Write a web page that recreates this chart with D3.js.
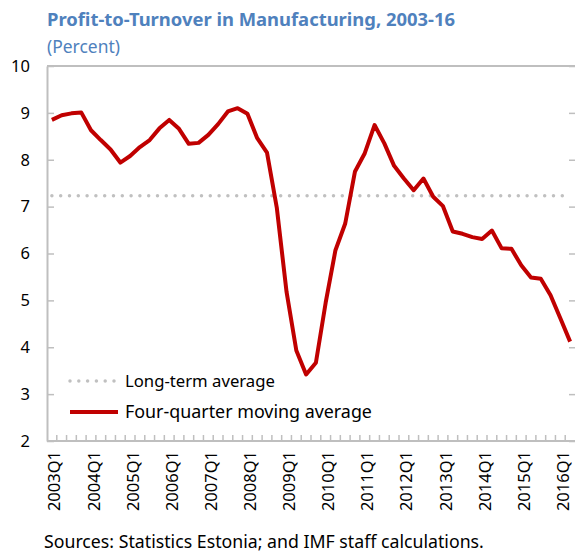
<!DOCTYPE html>
<html>
<head>
<meta charset="utf-8">
<script src="https://cdn.jsdelivr.net/npm/d3@7"></script>
<style>
  body { margin: 0; background: #fff; }
  svg { display: block; font-family: "Noto Sans", "Open Sans", sans-serif; }
</style>
</head>
<body>
<svg id="drawing_region"></svg>
<script>
// quarters 2003Q1 .. 2016Q2
const years = [2003, 2004, 2005, 2006, 2007, 2008, 2009, 2010, 2011, 2012, 2013, 2014, 2015, 2016];
const quarters = [];
years.forEach(y => [1, 2, 3, 4].forEach(q => quarters.push(y + "Q" + q)));
quarters.splice(54);

// four-quarter moving average of profit-to-turnover, percent
const movingAvg = [
    8.85, 8.95, 8.99, 9.01, 8.63, 8.42, 8.22, 7.94, 8.08, 8.27,
    8.42, 8.67, 8.85, 8.66, 8.34, 8.36, 8.53, 8.76, 9.03, 9.10,
    8.98, 8.46, 8.15, 6.98, 5.18, 3.93, 3.42, 3.67, 4.95, 6.07,
    6.64, 7.75, 8.14, 8.74, 8.35, 7.87, 7.60, 7.35, 7.60, 7.21,
    7.01, 6.47, 6.42, 6.35, 6.31, 6.49, 6.11, 6.10, 5.75, 5.49,
    5.46, 5.11, 4.62, 4.12
];
const longTermAvg = 7.23;

const yTicks = [2, 3, 4, 5, 6, 7, 8, 9, 10];
const xTickLabels = ["2003Q1", "2004Q1", "2005Q1", "2006Q1", "2007Q1", "2008Q1", "2009Q1",
                     "2010Q1", "2011Q1", "2012Q1", "2013Q1", "2014Q1", "2015Q1", "2016Q1"];
const legendLabels = ["Long-term average", "Four-quarter moving average"];

const config = {
    width: 575,
    height: 554,
    margin: {top: 66, right: 0, bottom: 113, left: 47}
};

const data = quarters.map((q, i) => ({label: q, value: movingAvg[i]}));

const svg = d3.select('#drawing_region')
    .attr('width', config.width)
    .attr('height', config.height);

const inner_width = config.width - config.margin.left - config.margin.right;
const inner_height = config.height - config.margin.top - config.margin.bottom;

const chart = svg.append('g')
    .attr('transform', `translate(${config.margin.left}, ${config.margin.top})`);

const xscale = d3.scaleBand()
    .domain(quarters)
    .range([0, inner_width]);

const yscale = d3.scaleLinear()
    .domain([2, 10])
    .range([inner_height, 0]);

const axisColor = '#bfbfbf';
const blue = '#4f81bd';

// shrink/grow font so the text spans the same width as in the source
function fit(sel, w) {
    const size = +sel.attr('font-size');
    const len = sel.node().getComputedTextLength();
    sel.attr('font-size', (size * w / len).toFixed(2));
    return sel;
}

// title
fit(svg.append('text')
    .attr('x', 47).attr('y', 26)
    .attr('font-size', 18).attr('font-weight', 'bold')
    .attr('fill', blue)
    .text('Profit-to-Turnover in Manufacturing,  2003-16'), 408);

fit(svg.append('text')
    .attr('x', 47).attr('y', 53)
    .attr('font-size', 16)
    .attr('fill', blue)
    .text('(Percent)'), 73);

// frame top
chart.append('line')
    .attr('x1', 0).attr('x2', inner_width)
    .attr('y1', 0).attr('y2', 0)
    .attr('stroke', axisColor).attr('stroke-width', 2);

// left axis, ticks inward
const yaxis_group = chart.append('g')
    .call(d3.axisLeft(yscale).tickValues(yTicks).tickSize(0).tickPadding(17));
yaxis_group.selectAll('text').attr('font-size', 16.5).attr('fill', '#000')
    .attr('font-family', '"Noto Sans", sans-serif');
yaxis_group.selectAll('.tick').append('line')
    .attr('x2', 7).attr('stroke', axisColor).attr('stroke-width', 1.5);
yaxis_group.select('.domain').attr('stroke', axisColor).attr('stroke-width', 2);

// right ticks, inward
const ryaxis_group = chart.append('g')
    .attr('transform', `translate(${inner_width}, 0)`)
    .call(d3.axisLeft(yscale).tickValues(yTicks).tickSize(6).tickFormat(''));
ryaxis_group.selectAll('line').attr('stroke', axisColor).attr('stroke-width', 1.5);
ryaxis_group.select('.domain').remove();

// bottom axis, ticks between categories
const xaxis_group = chart.append('g')
    .attr('transform', `translate(0, ${inner_height})`);
xaxis_group.append('line')
    .attr('x1', 0).attr('x2', inner_width)
    .attr('stroke', axisColor).attr('stroke-width', 2);
xaxis_group.selectAll('.qtick')
    .data(quarters.slice(1))
    .enter()
    .append('line')
    .attr('class', 'qtick')
    .attr('x1', d => xscale(d)).attr('x2', d => xscale(d))
    .attr('y1', 0).attr('y2', -6)
    .attr('stroke', axisColor).attr('stroke-width', 1.5);
xaxis_group.selectAll('.xlabel')
    .data(xTickLabels)
    .enter()
    .append('text')
    .attr('class', 'xlabel')
    .attr('transform', d => `translate(${xscale(d) + xscale.bandwidth() / 2 + 8.5}, 10) rotate(-90)`)
    .attr('text-anchor', 'end')
    .attr('font-size', 16.5)
    .attr('fill', '#000')
    .text(d => d);

// long-term average
chart.append('line')
    .attr('x1', xscale(quarters[0]) + xscale.bandwidth() / 2)
    .attr('x2', xscale(quarters[quarters.length - 1]) + xscale.bandwidth() / 2)
    .attr('y1', yscale(longTermAvg)).attr('y2', yscale(longTermAvg))
    .attr('stroke', '#c0c0c0').attr('stroke-width', 3.5)
    .attr('stroke-linecap', 'round')
    .attr('stroke-dasharray', '0,8.8');

// moving average line
const line = d3.line()
    .x(d => xscale(d.label) + xscale.bandwidth() / 2)
    .y(d => yscale(d.value));

chart.append('path')
    .datum(data)
    .attr('d', line)
    .attr('fill', 'none')
    .attr('stroke', '#c00000')
    .attr('stroke-width', 4)
    .attr('stroke-linejoin', 'round');

// legend
const legend = svg.append('g');
const legendWidths = [150, 247];
legendLabels.forEach((lab, i) => {
    const y = 381 + i * 31;
    const l = legend.append('line')
        .attr('x1', 70).attr('x2', 118)
        .attr('y1', y).attr('y2', y);
    if (i === 0) {
        l.attr('stroke', '#c0c0c0').attr('stroke-width', 3.5)
            .attr('stroke-linecap', 'round').attr('stroke-dasharray', '0,8.8');
    } else {
        l.attr('stroke', '#c00000').attr('stroke-width', 4);
    }
    fit(legend.append('text')
        .attr('x', 125).attr('y', y + 6)
        .attr('font-size', 17).attr('fill', '#000')
        .text(lab), legendWidths[i]);
});

// source note
fit(svg.append('text')
    .attr('x', 44).attr('y', 548)
    .attr('font-size', 16).attr('fill', '#000')
    .text('Sources: Statistics Estonia; and IMF staff calculations.'), 440);
</script>
</body>
</html>
